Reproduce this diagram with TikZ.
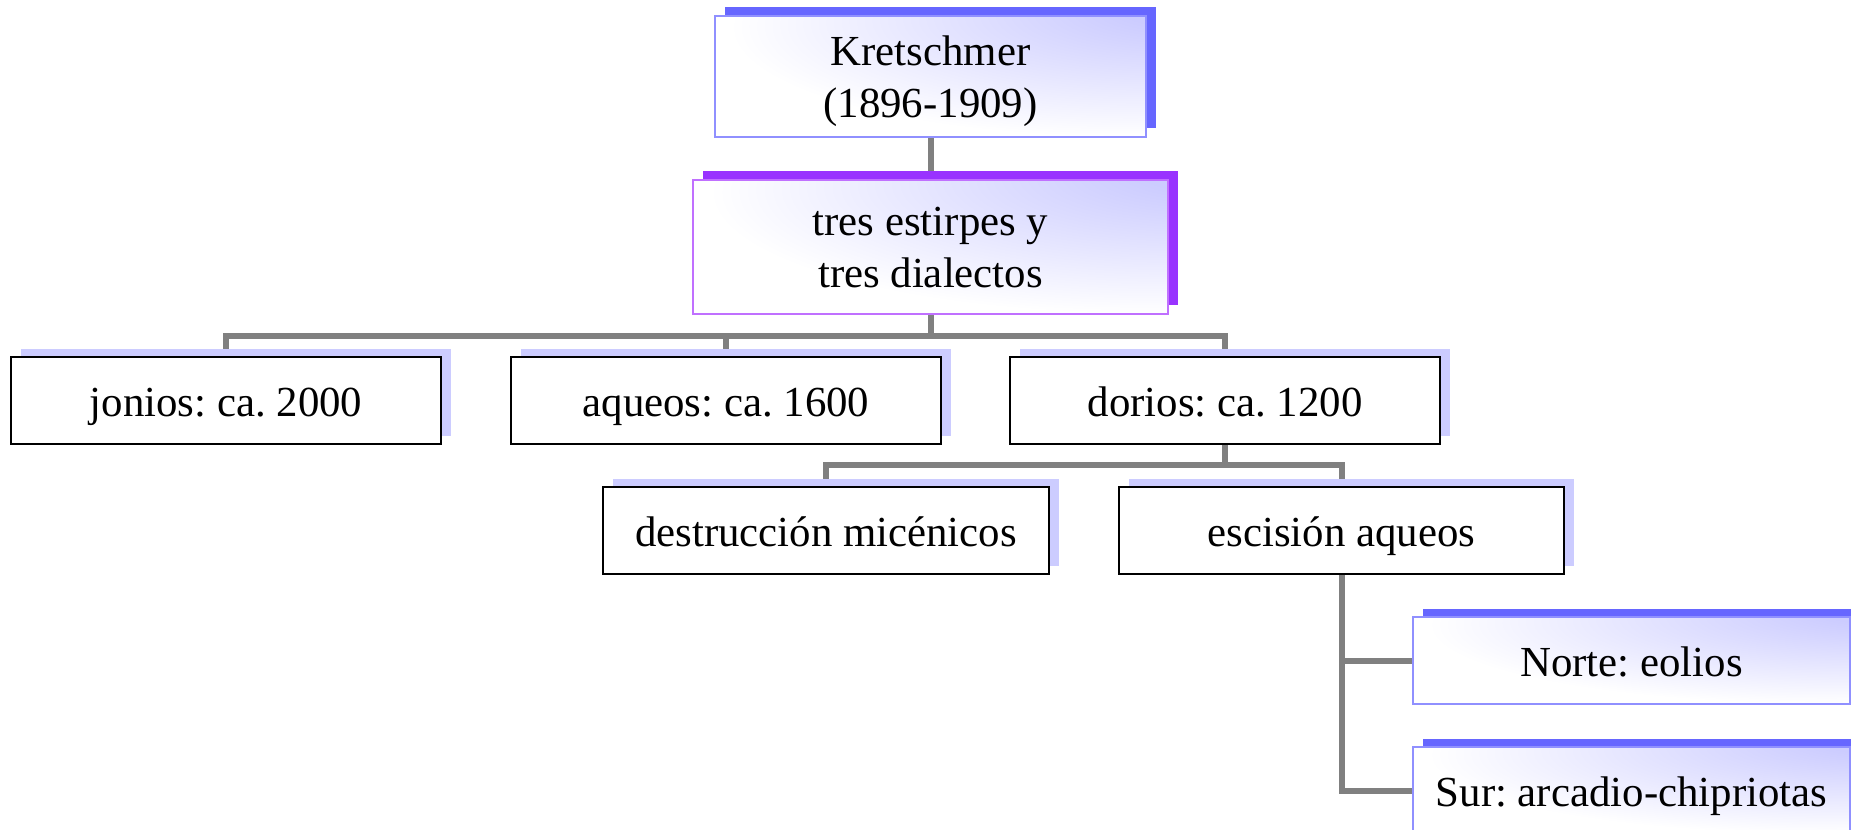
\documentclass[tikz,border=0pt]{standalone}
\usepackage{fontspec}
\setmainfont{Liberation Serif}
\usetikzlibrary{shadows,backgrounds}
\frenchspacing
\definecolor{lav}{HTML}{CCCCFF}
\definecolor{blueshadow}{HTML}{6666FF}
\definecolor{blueborder}{HTML}{9090FF}
\definecolor{purpleshadow}{HTML}{9933FF}
\definecolor{purpleborder}{HTML}{C070FF}
\definecolor{conngray}{HTML}{808080}
\pgfdeclareradialshading{glow}{\pgfpoint{32bp}{30bp}}{color(0bp)=(lav); color(8bp)=(lav); color(45bp)=(white); color(140bp)=(white)}
\tikzset{
  base/.style={rectangle, inner sep=0pt, align=center, font=\fontsize{43}{52}\selectfont\frenchspacing},
  oneline/.style={text height=46bp, text depth=14bp, minimum height=87bp},
  plainbox/.style={base, oneline, draw=black, line width=2.5bp, fill=white,
    general shadow={fill=lav, draw=none, shadow xshift=10bp, shadow yshift=8bp}},
  bluebox/.style={base, oneline, draw=blueborder, line width=2bp, shading=glow,
    general shadow={fill=blueshadow, draw=none, shadow xshift=10bp, shadow yshift=8bp}},
  topbox/.style={base, draw=blueborder, line width=2bp, shading=glow,
    general shadow={fill=blueshadow, draw=none, shadow xshift=10bp, shadow yshift=9bp}},
  purplebox/.style={base, draw=purpleborder, line width=2bp, shading=glow,
    general shadow={fill=purpleshadow, draw=none, shadow xshift=10bp, shadow yshift=9bp}},
  conn/.style={draw=conngray, line width=6bp, line join=miter},
}
\begin{document}
\begin{tikzpicture}[x=1bp, y=-1bp]
\useasboundingbox (0,0) rectangle (1851,830);
\node[topbox, minimum width=431bp, minimum height=121bp, text height=95bp, text depth=14bp] (K) at (930.5,76.5) {Kretschmer\\(1896-1909)};
\node[purplebox, minimum width=475bp, minimum height=134bp, text height=94bp, text depth=14bp] (T) at (930.5,247) {tres estirpes y\\tres dialectos};
\node[plainbox, minimum width=430bp] (J) at (226,400.5) {jonios: ca. 2000};
\node[plainbox, minimum width=430bp] (A) at (726,400.5) {aqueos: ca. 1600};
\node[plainbox, minimum width=430bp] (D) at (1225,400.5) {dorios: ca. 1200};
\node[plainbox, minimum width=446bp] (M) at (826,530.5) {destrucción micénicos};
\node[plainbox, minimum width=445bp] (E) at (1341.5,530.5) {escisión aqueos};
\node[bluebox, minimum width=437bp] (N) at (1631.5,660.5) {Norte: eolios};
\node[bluebox, minimum width=437bp] (S) at (1631.5,790.5) {Sur: arcadio-chipriotas};
\coordinate (b1) at (0,336);
\coordinate (b2) at (0,465);
\begin{pgfonlayer}{background}
\draw[conn] (K.south) -- (T.north);
\draw[conn] (T.south) -- (T.south |- b1);
\draw[conn] (J.north) |- (D.north |- b1) -- (D.north);
\draw[conn] (A.north) -- (A.north |- b1);
\draw[conn] (D.south) -- (D.south |- b2);
\draw[conn] (M.north) |- (E.north |- b2) -- (E.north);
\draw[conn] (E.south) |- (S.west);
\draw[conn] (E.south |- N.west) -- (N.west);
\end{pgfonlayer}
\end{tikzpicture}
\end{document}
